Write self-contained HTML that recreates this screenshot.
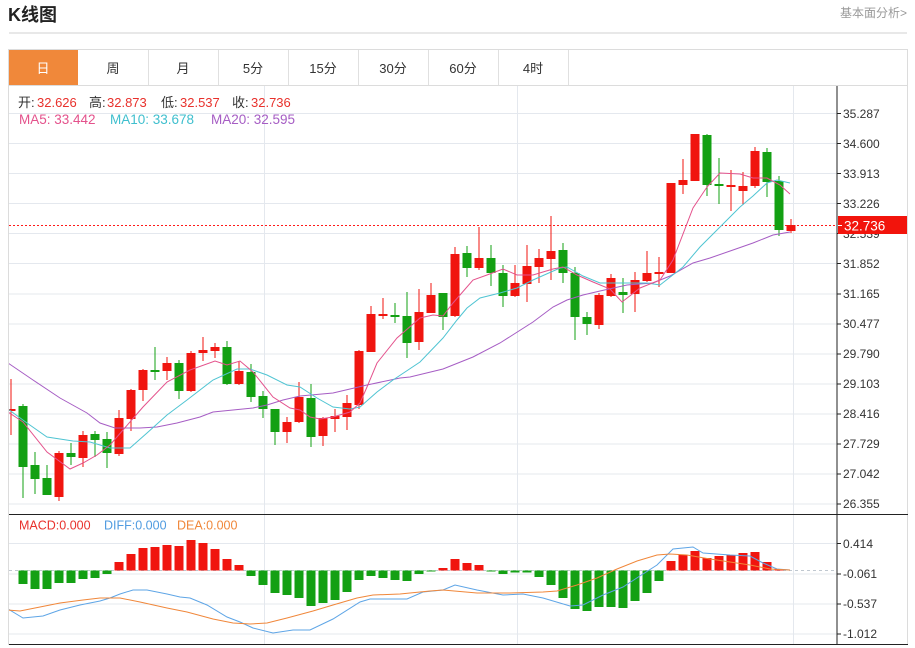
<!DOCTYPE html>
<html><head><meta charset="utf-8"><style>
html,body{margin:0;padding:0;background:#fff;}
svg{display:block;font-family:"Liberation Sans","Noto Sans CJK SC",sans-serif;}
</style></head><body>
<svg width="915" height="648" viewBox="0 0 915 648" xmlns="http://www.w3.org/2000/svg">
<defs><clipPath id="cp"><rect x="9" y="86" width="828" height="558"/></clipPath></defs>
<!-- header -->
<text x="8" y="21" font-size="18" font-weight="bold" fill="#222">K线图</text>
<text x="907" y="17" font-size="12" fill="#999" text-anchor="end">基本面分析&gt;</text>
<rect x="9" y="32.5" width="898" height="1" fill="#d0d0d0"/>
<!-- tabs -->
<rect x="8.5" y="49.5" width="899" height="36" fill="#fff" stroke="#dcdcdc"/>
<rect x="9" y="50" width="69" height="35" fill="#f0883a"/>
<g fill="#e0e0e0"><rect x="148" y="50" width="1" height="35"/><rect x="218" y="50" width="1" height="35"/><rect x="288" y="50" width="1" height="35"/><rect x="358" y="50" width="1" height="35"/><rect x="428" y="50" width="1" height="35"/><rect x="498" y="50" width="1" height="35"/><rect x="568" y="50" width="1" height="35"/></g>
<g font-size="13" text-anchor="middle" fill="#333">
<text x="43" y="73" fill="#fff">日</text><text x="113" y="73">周</text><text x="183" y="73">月</text><text x="253" y="73">5分</text><text x="323" y="73">15分</text><text x="393" y="73">30分</text><text x="463" y="73">60分</text><text x="533" y="73">4时</text>
</g>
<!-- chart frame -->
<rect x="8.5" y="85.5" width="899" height="559" fill="none" stroke="#dcdcdc"/>
<!-- grid -->
<g fill="#e4e8ee">
<rect x="9" y="113" width="828" height="1"/><rect x="9" y="143" width="828" height="1"/><rect x="9" y="173" width="828" height="1"/><rect x="9" y="203" width="828" height="1"/><rect x="9" y="233" width="828" height="1"/><rect x="9" y="263" width="828" height="1"/><rect x="9" y="293.5" width="828" height="1"/><rect x="9" y="323.5" width="828" height="1"/><rect x="9" y="353.5" width="828" height="1"/><rect x="9" y="383.5" width="828" height="1"/><rect x="9" y="413.5" width="828" height="1"/><rect x="9" y="443.5" width="828" height="1"/><rect x="9" y="473.5" width="828" height="1"/><rect x="9" y="503.5" width="828" height="1"/>
<rect x="9" y="543" width="828" height="1"/><rect x="9" y="573.5" width="828" height="1"/><rect x="9" y="603.5" width="828" height="1"/><rect x="9" y="633.5" width="828" height="1"/>
<rect x="264" y="86" width="1" height="558"/><rect x="517" y="86" width="1" height="558"/><rect x="793" y="86" width="1" height="558"/>
</g>
<!-- axes -->
<rect x="9" y="514" width="899" height="1" fill="#222"/>
<rect x="9" y="644" width="899" height="1" fill="#222"/>
<rect x="836.5" y="86" width="1" height="559" fill="#222"/>
<g fill="#222">
<rect x="837" y="113" width="4" height="1"/><rect x="837" y="143" width="4" height="1"/><rect x="837" y="173" width="4" height="1"/><rect x="837" y="203" width="4" height="1"/><rect x="837" y="233" width="4" height="1"/><rect x="837" y="263" width="4" height="1"/><rect x="837" y="293.5" width="4" height="1"/><rect x="837" y="323.5" width="4" height="1"/><rect x="837" y="353.5" width="4" height="1"/><rect x="837" y="383.5" width="4" height="1"/><rect x="837" y="413.5" width="4" height="1"/><rect x="837" y="443.5" width="4" height="1"/><rect x="837" y="473.5" width="4" height="1"/><rect x="837" y="503.5" width="4" height="1"/>
<rect x="837" y="543" width="4" height="1"/><rect x="837" y="573.5" width="4" height="1"/><rect x="837" y="603.5" width="4" height="1"/><rect x="837" y="633.5" width="4" height="1"/>
</g>
<g font-size="12" fill="#333">
<text x="843" y="118">35.287</text><text x="843" y="148">34.600</text><text x="843" y="178">33.913</text><text x="843" y="208">33.226</text><text x="843" y="238">32.539</text><text x="843" y="268">31.852</text><text x="843" y="298">31.165</text><text x="843" y="328">30.477</text><text x="843" y="358">29.790</text><text x="843" y="388">29.103</text><text x="843" y="418">28.416</text><text x="843" y="448">27.729</text><text x="843" y="478">27.042</text><text x="843" y="508">26.355</text>
<text x="843" y="548">0.414</text><text x="843" y="578">-0.061</text><text x="843" y="608">-0.537</text><text x="843" y="638">-1.012</text>
</g>
<!-- current price box -->
<rect x="838" y="216" width="69" height="18" fill="#f2140c"/>
<rect x="838" y="225" width="4" height="1" fill="#fff"/>
<text x="844" y="230.5" font-size="13.5" fill="#fff">32.736</text>

<g clip-path="url(#cp)">
<!-- price dotted line -->
<line x1="9" y1="225.5" x2="837" y2="225.5" stroke="#ff1a1a" stroke-width="1" stroke-dasharray="2,2"/>
<!-- zero line -->
<line x1="9" y1="570.5" x2="837" y2="570.5" stroke="#c0c8d0" stroke-width="1" stroke-dasharray="3,3"/>
<!-- candles -->
<g fill="#f0150f">
<rect x="10.5" y="379" width="1" height="56"/><rect x="6.5" y="409" width="9" height="2"/>
<rect x="58.5" y="451" width="1" height="50"/><rect x="54.5" y="453" width="9" height="44"/>
<rect x="82.5" y="431" width="1" height="36"/><rect x="78.5" y="435" width="9" height="23"/>
<rect x="118.5" y="410" width="1" height="46"/><rect x="114.5" y="418" width="9" height="36"/>
<rect x="130.5" y="389" width="1" height="42"/><rect x="126.5" y="390" width="9" height="29"/>
<rect x="142.5" y="369" width="1" height="32"/><rect x="138.5" y="370" width="9" height="20"/>
<rect x="166.5" y="357" width="1" height="23"/><rect x="162.5" y="363" width="9" height="8"/>
<rect x="190.5" y="351" width="1" height="41"/><rect x="186.5" y="353" width="9" height="38"/>
<rect x="202.5" y="337" width="1" height="24"/><rect x="198.5" y="350" width="9" height="3"/>
<rect x="214.5" y="343" width="1" height="15"/><rect x="210.5" y="347" width="9" height="4"/>
<rect x="238.5" y="361" width="1" height="24"/><rect x="234.5" y="371" width="9" height="13"/>
<rect x="286.5" y="417" width="1" height="26"/><rect x="282.5" y="422" width="9" height="10"/>
<rect x="298.5" y="382" width="1" height="41"/><rect x="294.5" y="397" width="9" height="25"/>
<rect x="322.5" y="417" width="1" height="29"/><rect x="318.5" y="418" width="9" height="18"/>
<rect x="334.5" y="409" width="1" height="23"/><rect x="330.5" y="416" width="9" height="3"/>
<rect x="346.5" y="395" width="1" height="35"/><rect x="342.5" y="403" width="9" height="14"/>
<rect x="358.5" y="350" width="1" height="59"/><rect x="354.5" y="351" width="9" height="54"/>
<rect x="370.5" y="306" width="1" height="46"/><rect x="366.5" y="314" width="9" height="38"/>
<rect x="382.5" y="298" width="1" height="21"/><rect x="378.5" y="314" width="9" height="2"/>
<rect x="418.5" y="289" width="1" height="61"/><rect x="414.5" y="312" width="9" height="30"/>
<rect x="430.5" y="283" width="1" height="30"/><rect x="426.5" y="295" width="9" height="18"/>
<rect x="454.5" y="247" width="1" height="70"/><rect x="450.5" y="254" width="9" height="62"/>
<rect x="478.5" y="227" width="1" height="43"/><rect x="474.5" y="258" width="9" height="10"/>
<rect x="514.5" y="265" width="1" height="32"/><rect x="510.5" y="283" width="9" height="13"/>
<rect x="526.5" y="245" width="1" height="57"/><rect x="522.5" y="266" width="9" height="18"/>
<rect x="538.5" y="249" width="1" height="34"/><rect x="534.5" y="258" width="9" height="9"/>
<rect x="550.5" y="216" width="1" height="64"/><rect x="546.5" y="251" width="9" height="8"/>
<rect x="598.5" y="293" width="1" height="36"/><rect x="594.5" y="295" width="9" height="30"/>
<rect x="610.5" y="274" width="1" height="23"/><rect x="606.5" y="278" width="9" height="18"/>
<rect x="634.5" y="272" width="1" height="40"/><rect x="630.5" y="280" width="9" height="14"/>
<rect x="646.5" y="251" width="1" height="31"/><rect x="642.5" y="273" width="9" height="8"/>
<rect x="658.5" y="257" width="1" height="30"/><rect x="654.5" y="272" width="9" height="2"/>
<rect x="670.5" y="183" width="1" height="90"/><rect x="666.5" y="183" width="9" height="90"/>
<rect x="682.5" y="159" width="1" height="35"/><rect x="678.5" y="180" width="9" height="5"/>
<rect x="694.5" y="134" width="1" height="47"/><rect x="690.5" y="134" width="9" height="47"/>
<rect x="730.5" y="170" width="1" height="41"/><rect x="726.5" y="185" width="9" height="2"/>
<rect x="742.5" y="172" width="1" height="33"/><rect x="738.5" y="186" width="9" height="5"/>
<rect x="754.5" y="147" width="1" height="41"/><rect x="750.5" y="151" width="9" height="35"/>
<rect x="790.5" y="219" width="1" height="14"/><rect x="786.5" y="225" width="9" height="6"/>
</g>
<g fill="#13a013">
<rect x="22.5" y="404" width="1" height="94"/><rect x="18.5" y="406" width="9" height="61"/>
<rect x="34.5" y="452" width="1" height="42"/><rect x="30.5" y="465" width="9" height="14"/>
<rect x="46.5" y="465" width="1" height="30"/><rect x="42.5" y="478" width="9" height="17"/>
<rect x="70.5" y="443" width="1" height="22"/><rect x="66.5" y="453" width="9" height="4"/>
<rect x="94.5" y="431" width="1" height="26"/><rect x="90.5" y="434" width="9" height="6"/>
<rect x="106.5" y="432" width="1" height="36"/><rect x="102.5" y="439" width="9" height="14"/>
<rect x="154.5" y="347" width="1" height="33"/><rect x="150.5" y="370" width="9" height="2"/>
<rect x="178.5" y="360" width="1" height="39"/><rect x="174.5" y="363" width="9" height="28"/>
<rect x="226.5" y="341" width="1" height="44"/><rect x="222.5" y="347" width="9" height="37"/>
<rect x="250.5" y="364" width="1" height="38"/><rect x="246.5" y="372" width="9" height="25"/>
<rect x="262.5" y="391" width="1" height="27"/><rect x="258.5" y="396" width="9" height="13"/>
<rect x="274.5" y="409" width="1" height="36"/><rect x="270.5" y="409" width="9" height="23"/>
<rect x="310.5" y="384" width="1" height="63"/><rect x="306.5" y="398" width="9" height="39"/>
<rect x="394.5" y="303" width="1" height="20"/><rect x="390.5" y="315" width="9" height="2"/>
<rect x="406.5" y="292" width="1" height="66"/><rect x="402.5" y="316" width="9" height="27"/>
<rect x="442.5" y="293" width="1" height="37"/><rect x="438.5" y="293" width="9" height="24"/>
<rect x="466.5" y="246" width="1" height="31"/><rect x="462.5" y="253" width="9" height="15"/>
<rect x="490.5" y="245" width="1" height="41"/><rect x="486.5" y="258" width="9" height="15"/>
<rect x="502.5" y="265" width="1" height="42"/><rect x="498.5" y="273" width="9" height="23"/>
<rect x="562.5" y="243" width="1" height="40"/><rect x="558.5" y="250" width="9" height="23"/>
<rect x="574.5" y="267" width="1" height="73"/><rect x="570.5" y="273" width="9" height="44"/>
<rect x="586.5" y="312" width="1" height="23"/><rect x="582.5" y="317" width="9" height="7"/>
<rect x="622.5" y="278" width="1" height="35"/><rect x="618.5" y="292" width="9" height="3"/>
<rect x="706.5" y="134" width="1" height="62"/><rect x="702.5" y="135" width="9" height="50"/>
<rect x="718.5" y="158" width="1" height="46"/><rect x="714.5" y="184" width="9" height="2"/>
<rect x="766.5" y="148" width="1" height="49"/><rect x="762.5" y="152" width="9" height="30"/>
<rect x="778.5" y="176" width="1" height="60"/><rect x="774.5" y="181" width="9" height="49"/>
</g>
<!-- MA lines -->
<polyline fill="none" stroke="#a65dc4" stroke-width="1" points="8,363 33,380 60,398 87,413 100,423 115,428 140,428 157,427 177,423 200,417 213,412 233,410 253,408 267,405 283,400 300,396 333,393 367,385 400,378 410,377 443,369 473,357 500,343 533,322 553,307 567,300 583,295 600,291 627,285 653,283 670,276 693,263 710,258 733,250 753,243 773,235 790,232"/>
<polyline fill="none" stroke="#4fc4d2" stroke-width="1" points="8,409 27,423 47,437 73,441 90,442 100,445 110,448 130,448 147,433 167,415 187,400 213,380 237,369 250,369 267,375 287,385 300,387 317,398 333,407 350,409 360,407 377,392 393,380 420,362 443,338 457,320 467,308 480,298 500,293 517,288 533,280 560,268 567,267 583,276 600,283 627,283 647,283 660,285 683,267 700,247 720,227 740,207 753,196 767,183 777,180 790,183"/>
<polyline fill="none" stroke="#e4528c" stroke-width="1" points="8,412 23,422 47,452 70,469 83,463 97,455 110,445 123,430 143,407 167,382 190,370 215,361 227,365 240,361 253,372 273,397 290,408 300,410 310,417 320,419 333,417 350,412 360,403 367,387 377,363 397,338 420,318 433,315 443,316 453,303 473,280 487,275 503,269 517,275 533,275 553,269 563,267 577,275 593,282 610,289 622,302 640,288 660,280 673,260 693,208 707,187 720,173 740,174 753,178 767,178 780,185 790,194"/>
<!-- MACD bars -->
<g fill="#f0150f">
<rect x="114.5" y="562" width="9" height="8.5"/><rect x="126.5" y="554" width="9" height="16.5"/><rect x="138.5" y="548" width="9" height="22.5"/><rect x="150.5" y="547" width="9" height="23.5"/><rect x="162.5" y="545" width="9" height="25.5"/><rect x="174.5" y="546" width="9" height="24.5"/><rect x="186.5" y="540" width="9" height="30.5"/><rect x="198.5" y="543" width="9" height="27.5"/><rect x="210.5" y="549" width="9" height="21.5"/><rect x="222.5" y="559" width="9" height="11.5"/><rect x="234.5" y="565" width="9" height="5.5"/>
<rect x="438.5" y="568" width="9" height="2.5"/><rect x="450.5" y="559" width="9" height="11.5"/><rect x="462.5" y="563" width="9" height="7.5"/><rect x="474.5" y="565" width="9" height="5.5"/>
<rect x="666.5" y="561" width="9" height="9.5"/><rect x="678.5" y="555" width="9" height="15.5"/><rect x="690.5" y="551" width="9" height="19.5"/><rect x="702.5" y="558" width="9" height="12.5"/><rect x="714.5" y="556" width="9" height="14.5"/><rect x="726.5" y="555" width="9" height="15.5"/><rect x="738.5" y="553" width="9" height="17.5"/><rect x="750.5" y="552" width="9" height="18.5"/><rect x="762.5" y="562" width="9" height="8.5"/><rect x="774.5" y="569" width="9" height="1.5"/>
</g>
<g fill="#13a013">
<rect x="18.5" y="570.5" width="9" height="13.5"/><rect x="30.5" y="570.5" width="9" height="18.5"/><rect x="42.5" y="570.5" width="9" height="18.5"/><rect x="54.5" y="570.5" width="9" height="12.5"/><rect x="66.5" y="570.5" width="9" height="12.5"/><rect x="78.5" y="570.5" width="9" height="8.5"/><rect x="90.5" y="570.5" width="9" height="7.5"/><rect x="102.5" y="570.5" width="9" height="3.5"/>
<rect x="246.5" y="570.5" width="9" height="5.5"/><rect x="258.5" y="570.5" width="9" height="14.5"/><rect x="270.5" y="570.5" width="9" height="22.5"/><rect x="282.5" y="570.5" width="9" height="24.5"/><rect x="294.5" y="570.5" width="9" height="27.5"/><rect x="306.5" y="570.5" width="9" height="35.5"/><rect x="318.5" y="570.5" width="9" height="32.5"/><rect x="330.5" y="570.5" width="9" height="29.5"/><rect x="342.5" y="570.5" width="9" height="21.5"/><rect x="354.5" y="570.5" width="9" height="9.5"/><rect x="366.5" y="570.5" width="9" height="5.5"/><rect x="378.5" y="570.5" width="9" height="7.5"/><rect x="390.5" y="570.5" width="9" height="9.5"/><rect x="402.5" y="570.5" width="9" height="10.5"/><rect x="414.5" y="570.5" width="9" height="3.5"/><rect x="426.5" y="570.5" width="9" height="1"/>
<rect x="486.5" y="570.5" width="9" height="1"/><rect x="498.5" y="570.5" width="9" height="3.5"/><rect x="510.5" y="570.5" width="9" height="2"/><rect x="522.5" y="570.5" width="9" height="2"/><rect x="534.5" y="570.5" width="9" height="6.5"/><rect x="546.5" y="570.5" width="9" height="14.5"/><rect x="558.5" y="570.5" width="9" height="27.5"/><rect x="570.5" y="570.5" width="9" height="38.5"/><rect x="582.5" y="570.5" width="9" height="40.5"/><rect x="594.5" y="570.5" width="9" height="36.5"/><rect x="606.5" y="570.5" width="9" height="36.5"/><rect x="618.5" y="570.5" width="9" height="37.5"/><rect x="630.5" y="570.5" width="9" height="30.5"/><rect x="642.5" y="570.5" width="9" height="22.5"/><rect x="654.5" y="570.5" width="9" height="10.5"/>
</g>
<!-- DIFF / DEA -->
<polyline fill="none" stroke="#5ea5e6" stroke-width="1" points="8,609 23,618 43,616 60,610 80,605 100,601 110,598 120,594 133,590 147,590 167,594 180,597 190,598 207,605 227,617 240,622 253,628 273,633 293,630 310,630 333,619 360,602 370,599 407,599 423,592 443,590 455,585 477,590 503,595 523,594 543,598 570,606 583,605 603,595 623,587 643,574 657,565 673,549 693,547 703,553 730,555 750,556 763,563 777,569 790,570"/>
<polyline fill="none" stroke="#f0873a" stroke-width="1" points="8,610 20,611 40,607 60,603 83,600 100,598 120,598 140,602 167,608 187,612 213,619 233,623 250,624 267,623 287,618 313,611 333,605 357,598 373,595 400,594 430,591 443,590 477,593 510,593 543,592 557,591 577,585 597,578 617,569 637,561 657,555 670,554 687,555 710,559 730,562 750,565 770,569 790,570"/>
</g>
<!-- info text -->
<g font-size="13">
<text x="18" y="107" fill="#333">开:</text><text x="37" y="107" fill="#e8312c">32.626</text>
<text x="89" y="107" fill="#333">高:</text><text x="107" y="107" fill="#e8312c">32.873</text>
<text x="161" y="107" fill="#333">低:</text><text x="180" y="107" fill="#e8312c">32.537</text>
<text x="232" y="107" fill="#333">收:</text><text x="251" y="107" fill="#e8312c">32.736</text>
</g>
<g font-size="13.5">
<text x="19" y="124" fill="#e4528c">MA5: 33.442</text>
<text x="110" y="124" fill="#3fbfce">MA10: 33.678</text>
<text x="211" y="124" fill="#a65dc4">MA20: 32.595</text>
</g>
<g font-size="12.5">
<text x="19" y="529.5" fill="#e8312c">MACD:0.000</text>
<text x="104" y="529.5" fill="#4f9be0">DIFF:0.000</text>
<text x="177" y="529.5" fill="#f0873a">DEA:0.000</text>
</g>
</svg>
</body></html>
